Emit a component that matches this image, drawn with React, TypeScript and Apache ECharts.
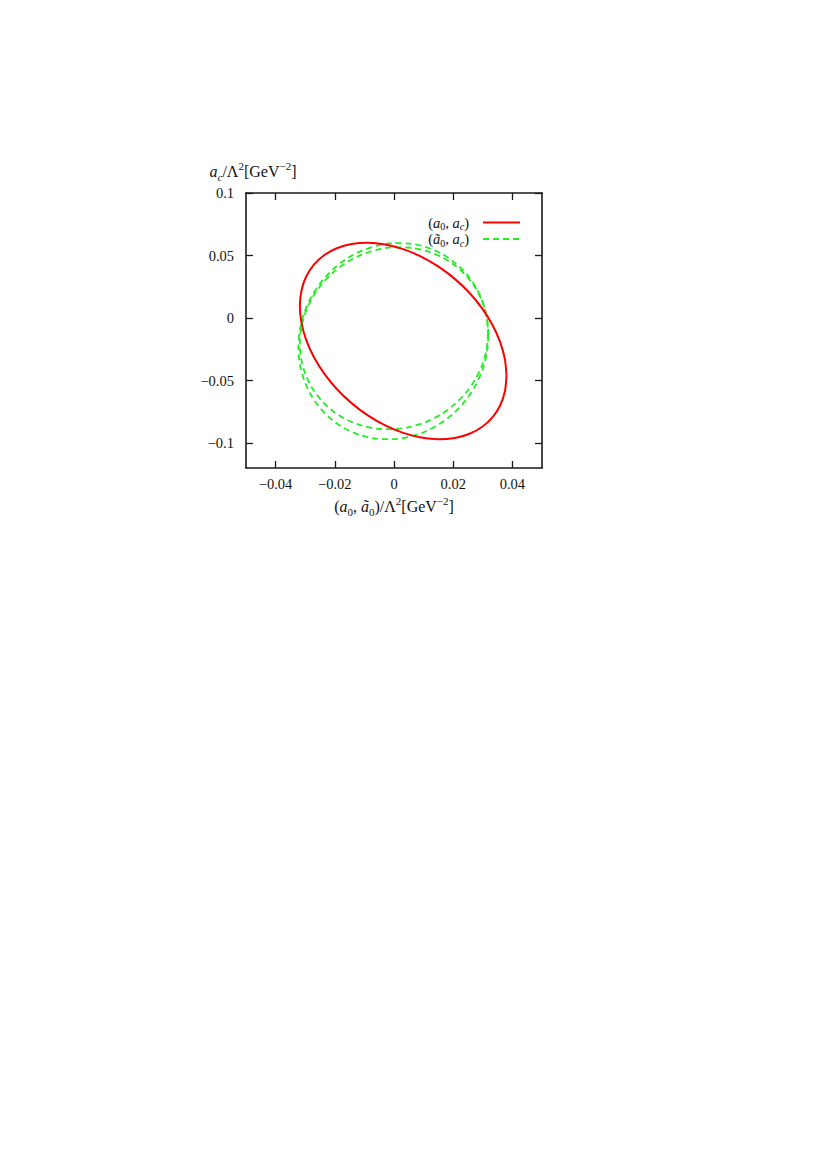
import React, { useEffect, useRef } from "react";
import * as echarts from "echarts";

// Tick positions
const xTicks = [-0.04, -0.02, 0, 0.02, 0.04];
const yTicks = [-0.1, -0.05, 0, 0.05, 0.1];

// Series names
const redName = "(a0, ac)";
const greenName = "(ã0, ac)";

// Red contour (a0, ac)
const redX = [0.038, 0.03747, 0.0359, 0.03332, 0.02983, 0.02553, 0.02055, 0.01504, 0.00916, 0.0031,
  -0.00296, -0.00884, -0.01435, -0.01933, -0.02363, -0.02712, -0.0297, -0.03127, -0.0318,
  -0.03127, -0.0297, -0.02712, -0.02363, -0.01933, -0.01435, -0.00884, -0.00296, 0.0031,
  0.00916, 0.01504, 0.02055, 0.02553, 0.02983, 0.03332, 0.0359, 0.03747];
const redY = [-0.0463, -0.05864, -0.06976, -0.07931, -0.08702, -0.09263, -0.096, -0.09701, -0.09562, -0.0919,
  -0.08594, -0.07793, -0.0681, -0.05677, -0.04428, -0.03099, -0.01732, -0.00368, 0.0095,
  0.02184, 0.03296, 0.04251, 0.05022, 0.05583, 0.0592, 0.06021, 0.05882, 0.0551,
  0.04914, 0.04113, 0.0313, 0.01997, 0.00748, -0.00581, -0.01948, -0.03312];

// Green contour (ã0, ac), outer branch
const greenOuterX = [0.0319, 0.03141, 0.02996, 0.0276, 0.02439, 0.02043, 0.01585, 0.01078, 0.00537, -0.0002,
  -0.00577, -0.01118, -0.01625, -0.02083, -0.02479, -0.028, -0.03036, -0.03181, -0.0323,
  -0.03181, -0.03036, -0.028, -0.02479, -0.02083, -0.01625, -0.01118, -0.00577, -0.0002,
  0.00537, 0.01078, 0.01585, 0.02043, 0.02439, 0.0276, 0.02996, 0.03141];
const greenOuterY = [-0.01384, -0.02752, -0.04093, -0.05367, -0.06534, -0.07557, -0.08408, -0.09061, -0.09494, -0.09695,
  -0.09658, -0.09383, -0.0888, -0.08163, -0.07256, -0.06183, -0.04979, -0.0368, -0.02326,
  -0.00958, 0.00383, 0.01657, 0.02824, 0.03847, 0.04698, 0.05351, 0.05784, 0.05985,
  0.05948, 0.05673, 0.0517, 0.04453, 0.03546, 0.02473, 0.01269, -0.0003];

// Green contour (ã0, ac), inner branch
const greenInnerX = [0.0318, 0.03132, 0.02988, 0.02754, 0.02436, 0.02044, 0.0159, 0.01088, 0.00552, 0.0,
  -0.00552, -0.01088, -0.0159, -0.02044, -0.02436, -0.02754, -0.02988, -0.03132, -0.0318,
  -0.03132, -0.02988, -0.02754, -0.02436, -0.02044, -0.0159, -0.01088, -0.00552, 0.0,
  0.00552, 0.01088, 0.0159, 0.02044, 0.02436, 0.02754, 0.02988, 0.03132];
const greenInnerY = [-0.01183, -0.02453, -0.03697, -0.0488, -0.05961, -0.06912, -0.07701, -0.08307, -0.08708, -0.08895,
  -0.0886, -0.08605, -0.08139, -0.07474, -0.06631, -0.05636, -0.04519, -0.03313, -0.02057,
  -0.00787, 0.00457, 0.0164, 0.02721, 0.03672, 0.04461, 0.05067, 0.05468, 0.05655,
  0.0562, 0.05365, 0.04899, 0.04234, 0.03391, 0.02396, 0.01279, 0.00073];

const loop = (xs: number[], ys: number[]) => {
  const pts = xs.map((x, i) => [x, ys[i]]);
  pts.push([xs[0], ys[0]]);
  return pts;
};

const FONT = "'Liberation Serif', 'DejaVu Serif', serif";
const RED = "#ff0000";
const GREEN = "#22ee22";
const FRAME = "#1a1a1a";
const TEXT = "#111111";

const fmt = (v: number) => (v === 0 ? "0" : String(v).replace("-", "\u2212"));

const makeRich = (size: number, small: number, lh: number) => ({
  i: { fontFamily: FONT, fontStyle: "italic", fontSize: size, color: TEXT, lineHeight: lh, verticalAlign: "middle" },
  n: { fontFamily: FONT, fontSize: size, color: TEXT, lineHeight: lh, verticalAlign: "middle" },
  sub: { fontFamily: FONT, fontSize: small, color: TEXT, lineHeight: small + 2, verticalAlign: "bottom" },
  subi: { fontFamily: FONT, fontStyle: "italic", fontSize: small, color: TEXT, lineHeight: small + 2, verticalAlign: "bottom" },
  sup: { fontFamily: FONT, fontSize: small, color: TEXT, lineHeight: small, verticalAlign: "top" },
  gap: { width: 9 },
});

const nameRich = makeRich(16, 11, 22);
const legendRich = makeRich(14.5, 10, 18);

export default function App() {
  const ref = useRef<HTMLDivElement>(null);
  useEffect(() => {
    if (!ref.current) return;
    const chart = echarts.init(ref.current, undefined, { renderer: "svg" });
    const tickCommon = { show: true, inside: true, length: 7, lineStyle: { color: FRAME, width: 1.3 } };
    const lineCommon = { show: true, onZero: false, lineStyle: { color: FRAME, width: 1.6 } };
    chart.setOption({
      animation: false,
      backgroundColor: "#ffffff",
      grid: { left: 246, top: 193, width: 296, height: 275, containLabel: false },
      legend: {
        orient: "vertical",
        right: 302,
        top: 210,
        align: "right",
        itemWidth: 37,
        itemHeight: 14,
        itemGap: 0,
        selectedMode: false,
        itemStyle: { opacity: 0 },
        data: [redName, greenName],
        textStyle: { fontFamily: FONT, fontSize: 14.5, color: TEXT, rich: legendRich },
        formatter: (name: string) =>
          name === redName
            ? "{n|(}{i|a}{sub|0}{n|, }{i|a}{subi|c}{n|)}{gap|}"
            : "{n|(}{i|ã}{sub|0}{n|, }{i|a}{subi|c}{n|)}{gap|}",
      },
      xAxis: [
        {
          type: "value",
          min: -0.05,
          max: 0.05,
          position: "bottom",
          axisLine: lineCommon,
          axisTick: { ...tickCommon, customValues: xTicks },
          axisLabel: {
            customValues: xTicks,
            formatter: fmt,
            margin: 8,
            fontFamily: FONT,
            fontSize: 14.5,
            color: TEXT,
          },
          splitLine: { show: false },
          name: "{n|(}{i|a}{sub|0}{n|, }{i|ã}{sub|0}{n|)/Λ}{sup|2}{n|[GeV}{sup|−2}{n|]}",
          nameLocation: "middle",
          nameGap: 27,
          nameTextStyle: { rich: nameRich },
        },
        {
          type: "value",
          min: -0.05,
          max: 0.05,
          position: "top",
          axisLine: lineCommon,
          axisTick: { ...tickCommon, customValues: xTicks },
          axisLabel: { show: false },
          splitLine: { show: false },
        },
      ],
      yAxis: [
        {
          type: "value",
          min: -0.12,
          max: 0.1,
          position: "left",
          axisLine: lineCommon,
          axisTick: { ...tickCommon, customValues: yTicks },
          axisLabel: {
            customValues: yTicks,
            formatter: fmt,
            margin: 12,
            fontFamily: FONT,
            fontSize: 14.5,
            color: TEXT,
          },
          splitLine: { show: false },
          name: "{i|a}{subi|c}{n|/Λ}{sup|2}{n|[GeV}{sup|−2}{n|]}",
          nameLocation: "end",
          nameGap: 11,
          nameTextStyle: { rich: nameRich, padding: [0, 0, 0, 14] },
        },
        {
          type: "value",
          min: -0.12,
          max: 0.1,
          position: "right",
          axisLine: lineCommon,
          axisTick: { ...tickCommon, customValues: yTicks },
          axisLabel: { show: false },
          splitLine: { show: false },
        },
      ],
      series: [
        {
          name: redName,
          type: "line",
          xAxisIndex: 0,
          yAxisIndex: 0,
          data: loop(redX, redY),
          symbol: "none",
          showSymbol: false,
          smooth: 0.3,
          lineStyle: { color: RED, width: 2 },
          itemStyle: { color: RED },
          z: 3,
        },
        {
          name: greenName,
          type: "line",
          xAxisIndex: 0,
          yAxisIndex: 0,
          data: loop(greenOuterX, greenOuterY),
          symbol: "none",
          showSymbol: false,
          smooth: 0.3,
          lineStyle: { color: GREEN, width: 1.8, type: [6, 4] },
          itemStyle: { color: GREEN },
          z: 2,
        },
        {
          name: greenName,
          type: "line",
          xAxisIndex: 0,
          yAxisIndex: 0,
          data: loop(greenInnerX, greenInnerY),
          symbol: "none",
          showSymbol: false,
          smooth: 0.3,
          lineStyle: { color: GREEN, width: 1.8, type: [6, 4] },
          itemStyle: { color: GREEN },
          z: 2,
        },
      ],
    });
    return () => chart.dispose();
  }, []);
  return (
    <div
      ref={ref}
      style={{ position: "absolute", left: 0, top: 0, width: 828, height: 1170, background: "#fff" }}
    />
  );
}
